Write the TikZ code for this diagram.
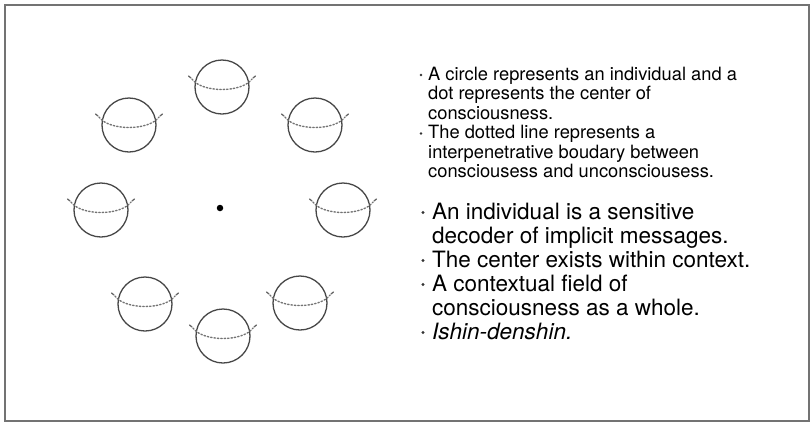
\documentclass[tikz,border=0pt]{standalone}
\usepackage{fontspec}
\setmainfont{TeX Gyre Heros}
\begin{document}
\begin{tikzpicture}[x=1pt,y=-1pt,
  ind/.style={circle,draw=black!72,line width=1.3pt,minimum size=54pt,inner sep=0pt},
  eqline/.style={draw=black!55,line width=1.4pt,dotted,line cap=round},
  tick/.style={draw=black!60,line width=1.3pt,line cap=round},
  small/.style={anchor=base west,inner sep=0pt,font=\fontsize{18.3}{19.5}\selectfont},
  large/.style={anchor=base west,inner sep=0pt,font=\fontsize{22.5}{24}\selectfont},
  sbul/.style={circle,fill=black!80,inner sep=0pt,minimum size=2.6pt},
  lbul/.style={circle,fill=black!80,inner sep=0pt,minimum size=3.2pt},
  frame/.style={draw=black!55,line width=1.6pt}]
\useasboundingbox (0,0) rectangle (812,424);
\draw[frame] (5,5) rectangle (809,421);
% individuals
\foreach \n/\x/\y in {c1/222/87, c2/129/125, c3/315/125, c4/101/210, c5/343/210, c6/145/304, c7/300/303, c8/223/336}{
  \node[ind] (\n) at (\x,\y) {};
  \draw[eqline] ([shift={(-30,-8)}]\n.center) .. controls ([shift={(-20,6)}]\n.center) and ([shift={(20,6)}]\n.center) .. ([shift={(30,-8)}]\n.center);
  \draw[tick] ([shift={(-33.5,-11)}]\n.center) -- ([shift={(-31,-9)}]\n.center);
  \draw[tick] ([shift={(33.5,-11)}]\n.center) -- ([shift={(31,-9)}]\n.center);
}
\node[circle,fill=black,inner sep=0pt,minimum size=6.5pt] (ctr) at (220,208) {};
% small text
\node[sbul] (b1) at (421,75) {};
\node[small] (s1) at (428,80) {A circle represents an individual and a};
\node[small] (s2) at (428,99.5) {dot represents the center of};
\node[small] (s3) at (428,119) {consciousness.};
\node[sbul] (b2) at (421,133.5) {};
\node[small] (s4) at (428,138.5) {The dotted line represents a};
\node[small] (s5) at (428,158) {interpenetrative boudary between};
\node[small] (s6) at (428,177.5) {consciousess and unconsciousess.};
% large text
\node[lbul] (b3) at (423,212.5) {};
\node[large] (l1) at (432,219) {An individual is a sensitive};
\node[large] (l2) at (432,243) {decoder of implicit messages.};
\node[lbul] (b4) at (423,260.5) {};
\node[large] (l3) at (432,267) {The center exists within context.};
\node[lbul] (b5) at (423,284.5) {};
\node[large] (l4) at (432,291) {A contextual field of};
\node[large] (l5) at (432,315) {consciousness as a whole.};
\node[lbul] (b6) at (423,332.5) {};
\node[large] (l6) at (432,339) {\itshape Ishin-denshin.};
\end{tikzpicture}
\end{document}
